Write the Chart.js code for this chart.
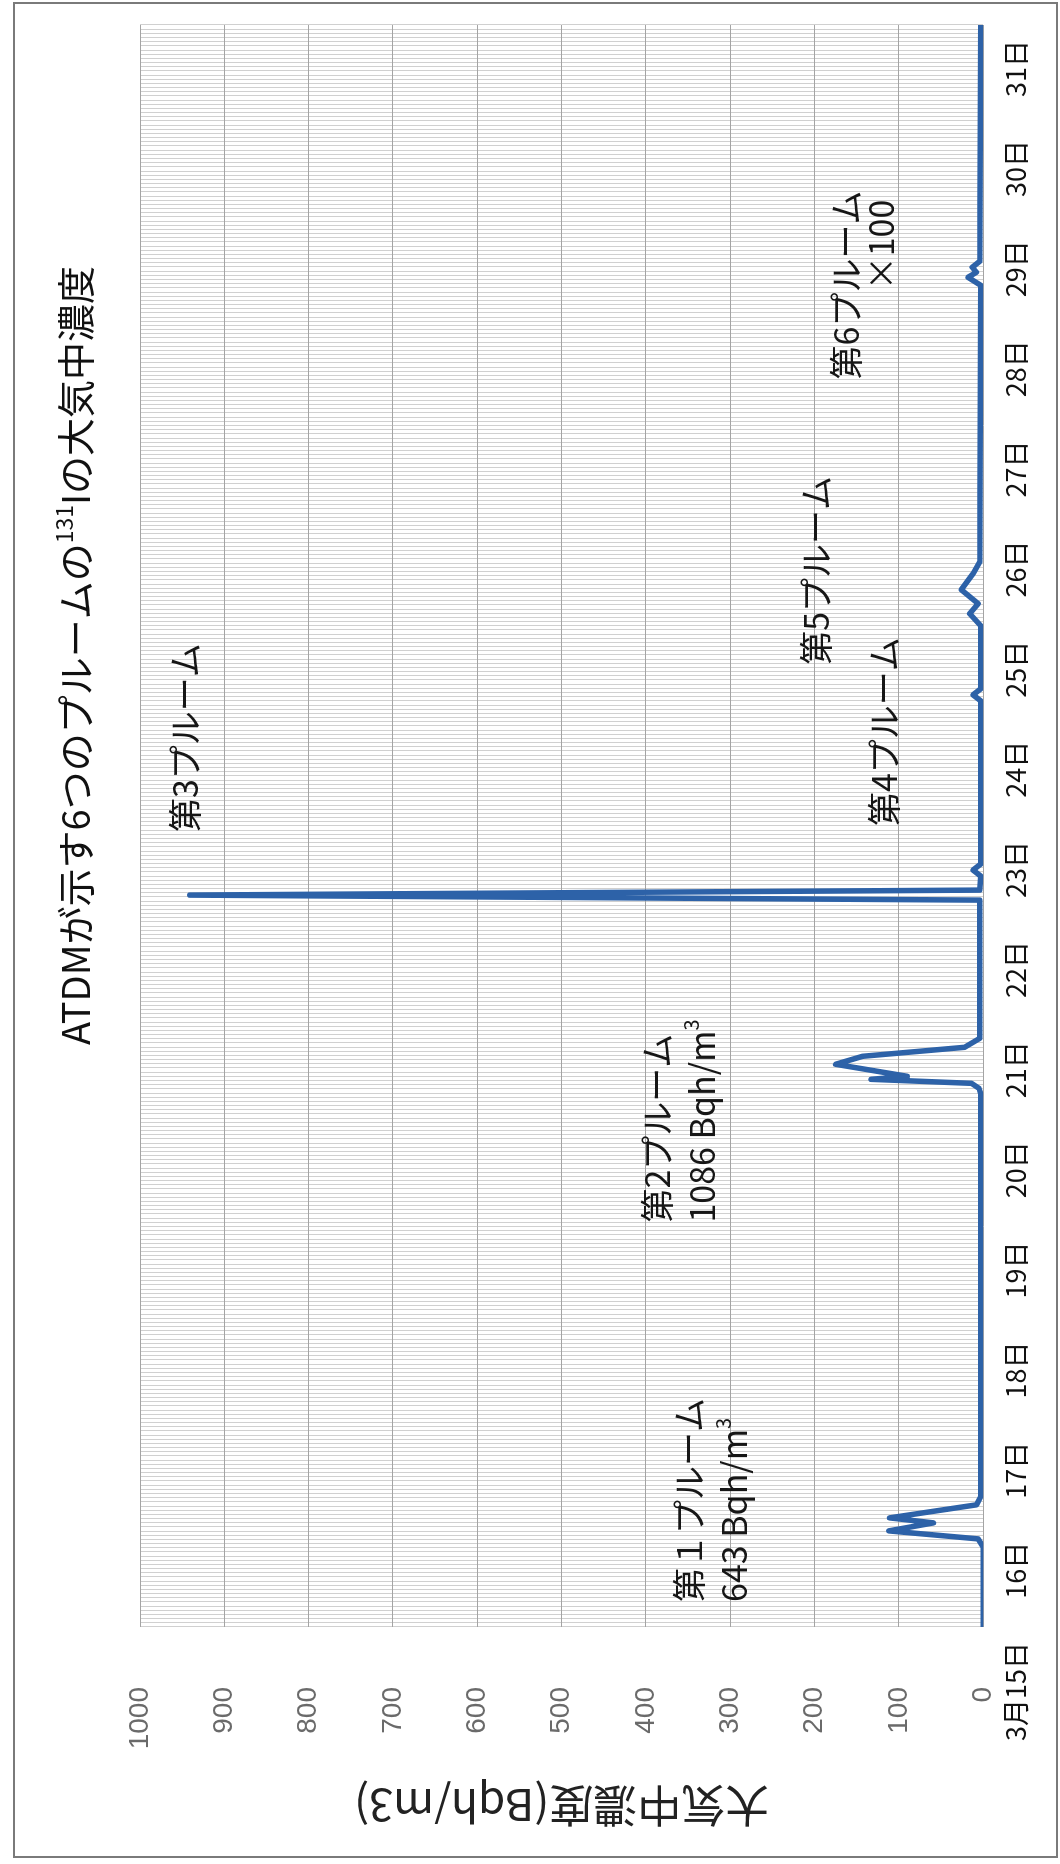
<!DOCTYPE html>
<html lang="ja">
<head>
<meta charset="utf-8">
<title>ATDMが示す6つのプルームの131Iの大気中濃度</title>
<script src="https://cdn.jsdelivr.net/npm/chart.js@4.4.1/dist/chart.umd.min.js"></script>
<style>
  html, body { margin: 0; padding: 0; background: #fff; overflow: hidden; width: 1060px; height: 1864px; }
  /* the sheet is laid out landscape and turned a quarter turn to stand upright */
  #sheet {
    position: absolute; left: 0; top: 0;
    width: 1864px; height: 1060px;
    transform-origin: 0 0;
    transform: translate(0, 1864px) rotate(-90deg);
    background: #fff;
  }
  #chartBox { position: absolute; left: 0; top: 0; width: 1864px; height: 1060px; }
  #frame {
    position: absolute; left: 6px; top: 13px; width: 1856px; height: 1045px;
    border: 2px solid #7a7a7a; box-sizing: border-box; pointer-events: none;
  }
</style>
</head>
<body>
<div id="sheet">
  <div id="chartBox"><canvas id="c" width="1864" height="1060"></canvas></div>
  <div id="frame"></div>
</div>
<script>
// ---- axis ticks -------------------------------------------------------
const dayTicks = [15, 16, 17, 18, 19, 20, 21, 22, 23, 24, 25, 26, 27, 28, 29, 30, 31];
const dayLabels = ['3月15日', '16日', '17日', '18日', '19日', '20日', '21日', '22日', '23日',
                   '24日', '25日', '26日', '27日', '28日', '29日', '30日', '31日'];
const valueTicks = [0, 100, 200, 300, 400, 500, 600, 700, 800, 900, 1000];
const hoursPerDay = 24;

// ---- series: time (day of March) and 131I concentration (Bqh/m3) -------
const times = [15.00, 15.80, 15.88, 15.96, 16.04, 16.09, 16.22, 16.30,
               20.33, 20.38, 20.43, 20.47, 20.50, 20.62, 20.70, 20.79, 20.88,
               22.26, 22.31, 22.36, 22.50, 22.56, 22.62,
               24.25, 24.31, 24.37,
               25.00, 25.12, 25.22, 25.36, 25.52, 25.64,
               28.40, 28.48, 28.53, 28.58, 28.64, 31.00];
const conc  = [0, 0, 6, 112, 59, 111, 8, 3,
               3, 5, 14, 133, 90, 175, 143, 22, 4,
               4, 941, 4, 3, 12, 3,
               3, 12, 3,
               3, 16, 6, 26, 12, 4,
               3, 18, 8, 13, 4, 3];

// ---- text ---------------------------------------------------------------
const chartTitle = [{ t: 'ATDMが示す6つのプルームの' }, { t: '131', sup: true }, { t: 'Iの大気中濃度' }];
const axisTitle = '大気中濃度(Bqh/m3)';
const notes = [
  { day: 15.25, value: 349, lines: [[{ t: '第１プルーム' }], [{ t: '643 Bqh/m' }, { t: '3', sup: true }]] },
  { day: 19.04, value: 387, lines: [[{ t: '第2プルーム' }], [{ t: '1086 Bqh/m' }, { t: '3', sup: true }]] },
  { day: 22.94, value: 946, lines: [[{ t: '第3プルーム' }]] },
  { day: 23.00, value: 118, lines: [[{ t: '第4プルーム' }]] },
  { day: 24.61, value: 198, lines: [[{ t: '第5プルーム' }]] },
  { day: 27.46, value: 163, lines: [[{ t: '第6プルーム' }]] },
  { day: 28.35, value: 121, lines: [[{ t: '×100' }]] }
];

const CJK = '"Noto Sans CJK JP", "Noto Sans", sans-serif';

function drawRich(ctx, segs, x, y, size, family) {
  let cx = x;
  for (const s of segs) {
    const fs = s.sup ? Math.round(size * 0.6) : size;
    ctx.font = fs + 'px ' + family;
    ctx.fillText(s.t, cx, s.sup ? y - size * 0.3 : y);
    cx += ctx.measureText(s.t).width;
  }
}

const notesPlugin = {
  id: 'notes',
  afterDatasetsDraw(chart) {
    const ctx = chart.ctx;
    const xs = chart.scales.x, ys = chart.scales.y;
    ctx.save();
    ctx.fillStyle = '#161616';
    ctx.textBaseline = 'middle';
    ctx.textAlign = 'left';
    for (const n of notes) {
      const x = xs.getPixelForValue(n.day);
      const y = ys.getPixelForValue(n.value);
      n.lines.forEach((segs, i) => drawRich(ctx, segs, x, y + i * 45, 34, CJK));
    }
    ctx.restore();
  }
};

const titlePlugin = {
  id: 'sheetTitle',
  afterDraw(chart) {
    const ctx = chart.ctx;
    ctx.save();
    ctx.fillStyle = '#111';
    ctx.textBaseline = 'middle';
    ctx.textAlign = 'left';
    drawRich(ctx, chartTitle, 819, 76, 38, CJK);
    ctx.restore();
  }
};

new Chart(document.getElementById('c'), {
  type: 'line',
  data: {
    datasets: [{
      data: times.map((t, i) => ({ x: t, y: conc[i] })),
      borderColor: '#2d62a8',
      borderWidth: 5.5,
      pointRadius: 0,
      tension: 0,
      fill: false,
      borderJoinStyle: 'round',
      borderCapStyle: 'round'
    }]
  },
  options: {
    responsive: false,
    animation: false,
    devicePixelRatio: 1,
    layout: { padding: { left: 0, right: 25, top: 140, bottom: 0 } },
    plugins: { legend: { display: false }, tooltip: { enabled: false }, title: { display: false } },
    scales: {
      x: {
        type: 'linear',
        min: dayTicks[0],
        max: dayTicks[dayTicks.length - 1],
        afterFit(s) { s.height = 72; },
        afterBuildTicks(s) {
          const t = [];
          for (let d = dayTicks[0]; d < dayTicks[dayTicks.length - 1]; d++) {
            for (let h = 0; h < hoursPerDay; h++) t.push({ value: d + h / hoursPerDay });
          }
          t.push({ value: dayTicks[dayTicks.length - 1] });
          s.ticks = t;
        },
        border: { display: false },
        grid: { color: '#d0d0d0', lineWidth: 1, drawTicks: false },
        ticks: {
          autoSkip: false,
          maxRotation: 0,
          minRotation: 0,
          align: 'end',
          labelOffset: -15,
          padding: 16,
          color: '#111',
          font: { family: CJK, size: 27 },
          callback(v) {
            const i = dayTicks.findIndex(d => Math.abs(d - v) < 1e-6);
            return i >= 0 ? dayLabels[i] : '';
          }
        }
      },
      y: {
        min: valueTicks[0],
        max: valueTicks[valueTicks.length - 1],
        afterFit(s) { s.width = 237; },
        afterBuildTicks(s) { s.ticks = valueTicks.map(v => ({ value: v })); },
        border: { display: false },
        grid: { color: '#a4a4a4', lineWidth: 1, drawTicks: false },
        ticks: {
          padding: 60,
          color: '#6a6a6a',
          font: { family: '"Liberation Sans", Arial, sans-serif', size: 28 },
          callback(v) { return String(v); }
        },
        title: {
          display: true,
          text: axisTitle,
          color: '#222',
          font: { family: CJK, size: 44 },
          padding: { top: 32, bottom: 0 }
        }
      }
    }
  },
  plugins: [notesPlugin, titlePlugin]
});
</script>
</body>
</html>
